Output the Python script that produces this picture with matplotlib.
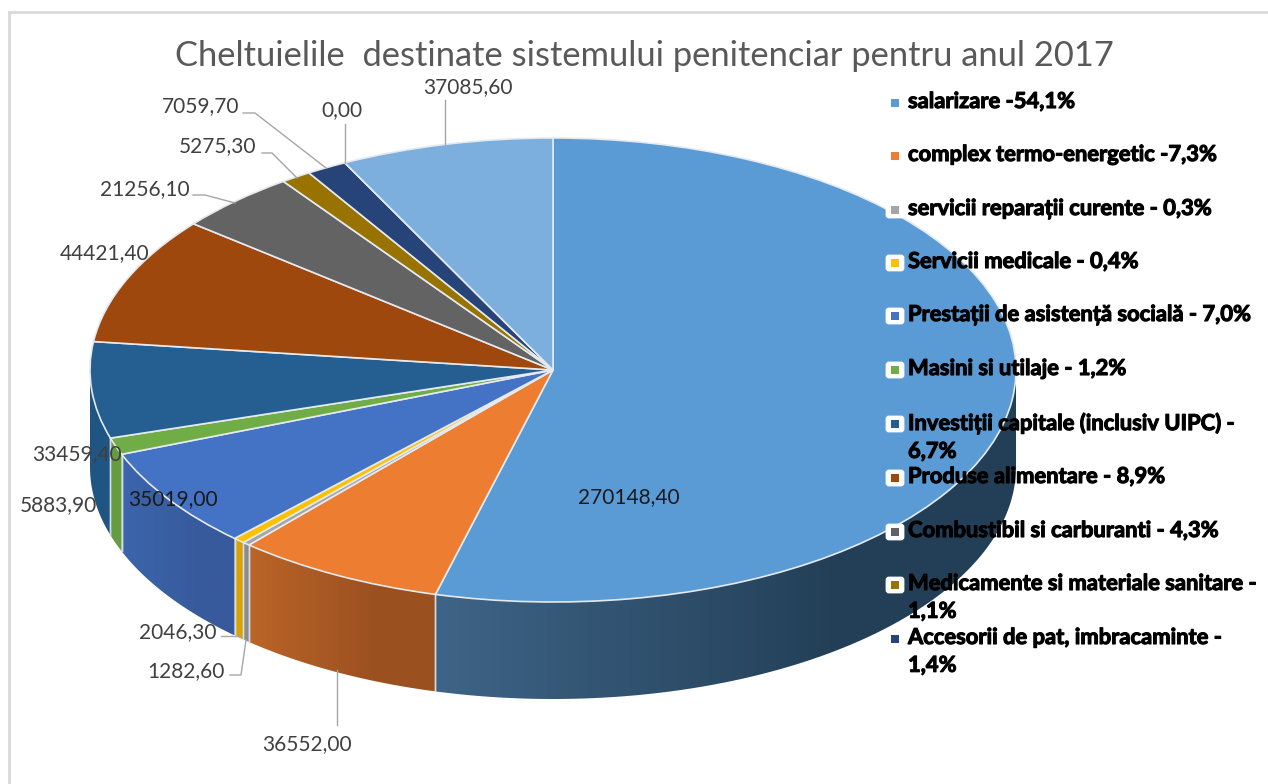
# -*- coding: utf-8 -*-
import numpy as np
import matplotlib
matplotlib.use('Agg')
import matplotlib.pyplot as plt
import matplotlib.patheffects as pe
from matplotlib.patches import Polygon, FancyBboxPatch, Rectangle

plt.rcParams['font.family'] = ['Lato', 'DejaVu Sans']

title = 'Cheltuielile  destinate sistemului penitenciar pentru anul 2017'
values = [270148.40, 36552.00, 1282.60, 2046.30, 35019.00, 5883.90, 33459.40,
          44421.40, 21256.10, 5275.30, 7059.70, 0.00, 37085.60]
value_labels = ['270148,40', '36552,00', '1282,60', '2046,30', '35019,00', '5883,90', '33459,40',
                '44421,40', '21256,10', '5275,30', '7059,70', '0,00', '37085,60']
colors = ['#5B9BD5', '#ED7D31', '#A5A5A5', '#FFC000', '#4472C4', '#70AD47', '#255E91',
          '#9E480E', '#636363', '#997300', '#264478', '#43682B', '#7CAFDD']
# side wall shades, left and right end of the gradient
wall_left = ['#3E6487', '#BA6428', '#8C8C8C', '#D9A300', '#3C65AC', '#659C40', '#1F5583',
             '#9E480E', '#636363', '#997300', '#264478', '#43682B', '#7CAFDD']
wall_right = ['#233F57', '#9B5020', '#8C8C8C', '#D9A300', '#375A9C', '#659C40', '#1F5583',
              '#9E480E', '#636363', '#997300', '#264478', '#43682B', '#7CAFDD']
legend_labels = ['salarizare -54,1%', 'complex termo-energetic -7,3%',
                 'servicii reparații curente - 0,3%', 'Servicii medicale - 0,4%',
                 'Prestații de asistență socială - 7,0%', 'Masini si utilaje - 1,2%',
                 'Investiții capitale (inclusiv UIPC) -\n6,7%', 'Produse alimentare - 8,9%',
                 'Combustibil si carburanti - 4,3%', 'Medicamente si materiale sanitare -\n1,1%',
                 'Accesorii de pat, imbracaminte -\n1,4%']
legend_colors = colors[:11]

# layout in pixels
W, H = 1268, 784
cx, cy, rx, ry, depth = 553, 370, 463, 232, 97
legend_y = [103, 156, 210, 263, 316, 370, 424, 478, 532, 585, 639]
label_pos = [(629, 497), (307, 744), (186, 671), (178, 632), (173, 499), (58, 505), (77, 454),
             (105, 253), (145, 189), (218, 146), (201, 106), (342, 110), (468, 87)]
label_dark = [0, 4]
leaders = [[(337, 725), (337, 670)],
           [(230, 675), (241, 675), (246, 640)],
           [(221, 636), (240, 636)],
           [(193, 195), (205, 195), (235, 203)],
           [(262, 153), (272, 153), (297, 178)],
           [(243, 113), (255, 113), (326, 168)],
           [(345, 124), (345, 163)],
           [(445, 100), (445, 145)]]


def hex_rgb(c):
    return np.array(matplotlib.colors.to_rgb(c))


fig = plt.figure(figsize=(W/100, H/100), dpi=100, facecolor='white')

# pie axes: unit circle is stretched to the ellipse of the picture
ax = fig.add_axes([0, 0, 1, 1])
wedges, _ = ax.pie(values, colors=colors, startangle=90, counterclock=False,
                   wedgeprops=dict(edgecolor='#E4EAF0', linewidth=1.2, clip_on=False))
ax.set_aspect('auto')
xlim = ((0-cx)/rx, (W-cx)/rx)
ylim = ((cy-H)/ry, cy/ry)
d = depth/ry

for w, cl, cr in zip(wedges, wall_left, wall_right):
    lo, hi = max(w.theta1, -180), min(w.theta2, 0)
    if hi <= lo:
        continue
    t = np.radians(np.linspace(lo, hi, 200))
    xs, ys = np.cos(t), np.sin(t)
    poly = np.r_[np.c_[xs, ys], np.c_[xs, ys-d][::-1]]
    patch = Polygon(poly, closed=True, facecolor='none', edgecolor='none', zorder=0.5)
    ax.add_patch(patch)
    # horizontal gradient, flat after 70 % of the width
    g = np.clip(np.linspace(0, 1, 256)/0.7, 0, 1)[None, :, None]
    img = hex_rgb(cl)[None, None, :]*(1-g) + hex_rgb(cr)[None, None, :]*g
    im = ax.imshow(img, extent=(xs.min(), xs.max(), (ys-d).min(), ys.max()),
                   aspect='auto', zorder=0.6, interpolation='bilinear')
    im.set_clip_path(patch)
    for a in [lo, hi]:
        if -180 < a < 0:
            xa, ya = np.cos(np.radians(a)), np.sin(np.radians(a))
            ax.plot([xa, xa], [ya, ya-d], color='#D5DCE4', lw=1.0, zorder=0.7)
ax.set_xlim(xlim)
ax.set_ylim(ylim)
ax.set_axis_off()

# overlay in pixel coordinates for the texts
ov = fig.add_axes([0, 0, 1, 1], facecolor='none')
ov.set_xlim(0, W)
ov.set_ylim(H, 0)
ov.set_axis_off()

ov.plot([9, 9], [H, 12], color='#D9D9D9', lw=2)
ov.plot([9, W], [12, 12], color='#D9D9D9', lw=2)

ov.text(644, 56, title, fontsize=24.85, color='#595959', ha='center', va='center')

for i, (lab, pos) in enumerate(zip(value_labels, label_pos)):
    ov.text(pos[0], pos[1], lab, fontsize=15, ha='center', va='center',
            color='#1A1A1A' if i in label_dark else '#404040')

for pts in leaders:
    pts = np.array(pts)
    ov.plot(pts[:, 0], pts[:, 1], color='#A6A6A6', lw=1.0)

for lab, col, y in zip(legend_labels, legend_colors, legend_y):
    ov.add_patch(FancyBboxPatch((887, y-7), 16, 14, boxstyle='round,pad=0,rounding_size=2',
                                mutation_aspect=1, facecolor='white', edgecolor='white', lw=2))
    ov.add_patch(Rectangle((891, y-4), 8, 8, facecolor=col, edgecolor='none'))
    tx = ov.text(908, y-12, lab, fontsize=15.8, fontweight='bold', color='black',
                 ha='left', va='top', linespacing=1.4)
    tx.set_path_effects([pe.withStroke(linewidth=0.8, foreground='black')])

fig.savefig('out.png', dpi=100)
